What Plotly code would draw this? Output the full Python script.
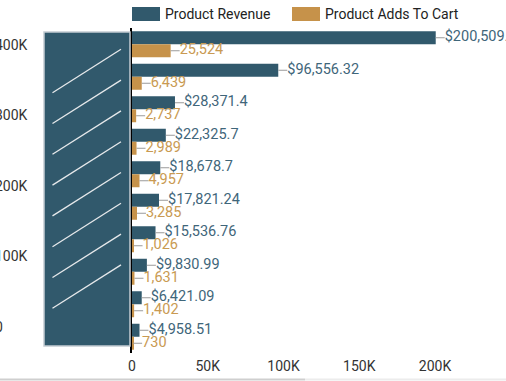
import plotly.graph_objects as go

# ---- data -------------------------------------------------------------
products = ["Product 1", "Product 2", "Product 3", "Product 4", "Product 5",
            "Product 6", "Product 7", "Product 8", "Product 9", "Product 10"]
product_revenue = [200509.6, 96556.32, 28371.4, 22325.7, 18678.7,
                   17821.24, 15536.76, 9830.99, 6421.09, 4958.51]
adds_to_cart = [25524, 6439, 2737, 2989, 4957, 3285, 1026, 1631, 1402, 730]

x_tick_vals = [0, 50000, 100000, 150000, 200000]
x_tick_text = ["0", "50K", "100K", "150K", "200K"]
side_tick_vals = [0, 100000, 200000, 300000, 400000]
side_tick_text = ["0", "100K", "200K", "300K", "400K"]

# ---- styling ----------------------------------------------------------
W, H = 506, 381
M_T, M_B = 28, 28
PLOT_LEFT = 132
X_MAX = 246900
REV_COLOR = "#31596c"
CART_COLOR = "#c6924a"
REV_TEXT = "#3f667a"
CART_TEXT = "#c99a52"
LEAD_COLOR = "#9a9a9a"
FONT = "Roboto"
FS = 14
LABEL_FS = 14.5

px_per_unit = (W - PLOT_LEFT) / X_MAX
lead = 9 / px_per_unit          # leader line length in data units
pos = list(range(len(products)))


def fmt_money(v):
    s = f"{v:,.2f}".rstrip("0").rstrip(".")
    return "$" + s


def px_x(p):
    return p / W


def px_y(p):
    return (H - M_B - p) / (H - M_T - M_B)


def leader(values, offset):
    xs, ys = [], []
    for i, v in zip(pos, values):
        xs += [v, v + lead, None]
        ys += [i + offset, i + offset, None]
    return xs, ys


fig = go.Figure()

fig.add_trace(go.Bar(
    name="Product Revenue", orientation="h", y=pos, x=product_revenue,
    width=0.4, offset=-0.4, marker=dict(color=REV_COLOR, line=dict(width=0)),
    customdata=products, hovertemplate="%{customdata}: %{x}<extra></extra>"))
fig.add_trace(go.Bar(
    name="Product Adds To Cart", orientation="h", y=pos, x=adds_to_cart,
    width=0.4, offset=0.0, marker=dict(color=CART_COLOR, line=dict(width=0)),
    customdata=products, hovertemplate="%{customdata}: %{x}<extra></extra>"))

# leader lines + value labels
for values, off, color, labels in [
    (product_revenue, -0.2, REV_TEXT, [fmt_money(v) for v in product_revenue]),
    (adds_to_cart, 0.2, CART_TEXT, [f"{v:,}" for v in adds_to_cart]),
]:
    lx, ly = leader(values, off)
    fig.add_trace(go.Scatter(x=lx, y=ly, mode="lines",
                             line=dict(color=LEAD_COLOR, width=1),
                             showlegend=False, hoverinfo="skip", cliponaxis=False))
    fig.add_trace(go.Scatter(x=[v + lead for v in values], y=[i + off for i in pos],
                             mode="text", text=labels, textposition="middle right",
                             textfont=dict(family=FONT, size=LABEL_FS, color=color),
                             showlegend=False, hoverinfo="skip", cliponaxis=False))

# carrier for the secondary left axis
fig.add_trace(go.Scatter(x=[None], y=[None], yaxis="y2", showlegend=False,
                         hoverinfo="skip"))

shapes = []
# masked category panel
shapes.append(dict(type="rect", xref="paper", yref="paper",
                   x0=px_x(44), x1=px_x(130), y0=px_y(346), y1=px_y(32),
                   fillcolor=REV_COLOR, line=dict(color="#c3ccd2", width=1.5),
                   layer="above"))
for k in range(8):
    yb = 92.7 + k * 30.8
    shapes.append(dict(type="line", xref="paper", yref="paper",
                       x0=px_x(52.5), y0=px_y(yb), x1=px_x(121), y1=px_y(yb - 43.4),
                       line=dict(color="#e6e9eb", width=1.3), layer="above"))

# legend swatches
legend_items = [("Product Revenue", REV_COLOR, 132),
                ("Product Adds To Cart", CART_COLOR, 292)]
annotations = []
for label, color, x0 in legend_items:
    shapes.append(dict(type="rect", xref="paper", yref="paper",
                       x0=px_x(x0), x1=px_x(x0 + 28), y0=px_y(21), y1=px_y(7),
                       fillcolor=color, line=dict(width=0)))
    annotations.append(dict(text=label, xref="paper", yref="paper",
                            x=px_x(x0 + 31), y=px_y(14), xanchor="left",
                            yanchor="middle", showarrow=False,
                            font=dict(family=FONT, size=FS, color="#222222")))

# bottom page rule
shapes.append(dict(type="line", xref="paper", yref="paper",
                   x0=0, x1=px_x(305), y0=px_y(379.5), y1=px_y(379.5),
                   line=dict(color="#cfcfcf", width=2)))
shapes.append(dict(type="line", xref="paper", yref="paper",
                   x0=px_x(305), x1=1, y0=px_y(379.5), y1=px_y(379.5),
                   line=dict(color="#ececec", width=2)))

fig.update_layout(
    template="none",
    width=W, height=H,
    margin=dict(l=0, r=0, t=M_T, b=M_B, pad=0),
    paper_bgcolor="white", plot_bgcolor="white",
    barmode="overlay",
    showlegend=False,
    font=dict(family=FONT, size=FS, color="#333333"),
    xaxis=dict(domain=[PLOT_LEFT / W, 1], range=[0, X_MAX],
               tickvals=x_tick_vals, ticktext=x_tick_text,
               showgrid=False, zeroline=False, showline=False, ticks="",
               ticklabelstandoff=3,
               tickfont=dict(family=FONT, size=FS, color="#333333"),
               automargin=False),
    yaxis=dict(range=[len(products) - 0.5, -0.5], showticklabels=False,
               showgrid=False, zeroline=False, showline=True,
               linecolor="#000000", linewidth=1.5, ticks="", automargin=False),
    yaxis2=dict(overlaying="y", anchor="free", position=0, side="right",
                ticklabelstandoff=-6,
                range=[-36900, 424100], tickvals=side_tick_vals,
                ticktext=side_tick_text, showgrid=False, zeroline=False,
                showline=False, ticks="",
                tickfont=dict(family=FONT, size=FS, color="#333333"),
                automargin=False),
    shapes=shapes,
    annotations=annotations,
)

fig.write_html("out.html")
